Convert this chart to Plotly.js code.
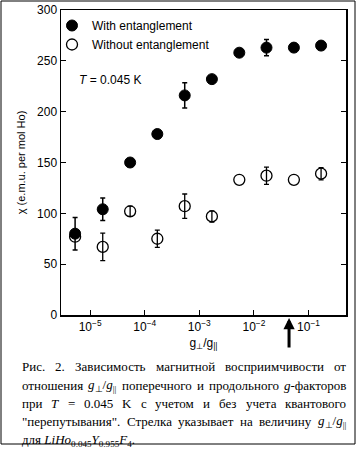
<!DOCTYPE html>
<html><head><meta charset="utf-8">
<script src="https://cdn.plot.ly/plotly-3.0.1.min.js"></script>
<style>html,body{margin:0;padding:0;background:#fff}</style>
</head><body><div id="chart" style="width:357px;height:450px"></div>
<script>
// ---- data ----
const ratio = [5.3e-6, 1.7e-5, 5.4e-5, 1.7e-4, 5.4e-4, 1.7e-3, 5.4e-3, 1.7e-2, 5.4e-2, 1.7e-1];
const chiWith = [80, 104, 150, 178, 216, 232, 258, 263, 263, 265];
const errWith = [16, 11, NaN, NaN, 12.5, NaN, NaN, 8, NaN, NaN];
const chiWithout = [77, 67, 102, 75, 107, 97, 133, 137, 133, 139];
const errWithout = [NaN, 13.5, 5, 8.5, 12, 5.5, NaN, 8.5, NaN, 6];
const xTickVals = [1e-5, 1e-4, 1e-3, 1e-2, 1e-1];
const xTickText = ['10<sup>−5</sup>', '10<sup>−4</sup>', '10<sup>−3</sup>', '10<sup>−2</sup>', '10<sup>−1</sup>'];
const yTickVals = [0, 50, 100, 150, 200, 250, 300];
const arrowRatio = 0.044;   // g_perp/g_par for LiHo0.045Y0.955F4
const seriesNames = ['With entanglement', 'Without entanglement'];
const captionLines = [
  ['Рис.', '2.', 'Зависимость', 'магнитной', 'восприимчивости', 'от'],
  ['отношения', '<i>g</i><sub>⊥</sub>/<i>g</i><sub>||</sub>', 'поперечного', 'и', 'продольного', '<i>g</i>-факторов'],
  ['при', '<i>T</i>', '=', '0.045', 'K', 'с', 'учетом', 'и', 'без', 'учета', 'квантового'],
  ['"перепутывания".', 'Стрелка', 'указывает', 'на', 'величину', '<i>g</i><sub>⊥</sub>/<i>g</i><sub>||</sub>']
];
const captionLast = 'для <i>LiHo</i><sub>0.045</sub><i>Y</i><sub>0.955</sub><i>F</i><sub>4</sub>.';

// ---- geometry ----
const W = 357, H = 450;
const M = {l: 61, r: 11, t: 10, b: 135};
const PW = W - M.l - M.r, PH = H - M.t - M.b;
const px2x = p => (p - M.l) / PW;
const py2y = p => (H - M.b - p) / PH;

const sans = 'Arial, "Liberation Sans", sans-serif';
const serif = '"Liberation Serif", "Times New Roman", serif';
const capSize = 13;

const ctx = document.createElement('canvas').getContext('2d');
function measure(word, size, family) {
  let w = 0, italic = false, sub = false, m;
  const re = /<(\/?)(i|sub|sup)>|([^<]+)/g;
  while ((m = re.exec(word))) {
    if (m[2]) { const open = !m[1]; if (m[2] === 'i') italic = open; else sub = open; }
    else { ctx.font = (italic ? 'italic ' : '') + (sub ? size * 0.7 : size) + 'px ' + family; w += ctx.measureText(m[3]).width; }
  }
  return w;
}

const annotations = [];
const capLeft = 21, capRight = 345;
const lineY = [366, 385, 403, 421];
captionLines.forEach((words, li) => {
  const widths = words.map(w => measure(w, capSize, 'Liberation Serif'));
  const total = widths.reduce((a, b) => a + b, 0);
  const gap = (capRight - capLeft - total) / (words.length - 1);
  let x = capLeft;
  words.forEach((w, i) => {
    annotations.push({text: w, xref: 'paper', yref: 'paper', x: px2x(x - 1), y: py2y(lineY[li]),
      xanchor: 'left', yanchor: 'middle', showarrow: false, font: {family: serif, size: capSize, color: '#000'}});
    x += widths[i] + gap;
  });
});
annotations.push({text: captionLast, xref: 'paper', yref: 'paper', x: px2x(capLeft - 1), y: py2y(440),
  xanchor: 'left', yanchor: 'middle', showarrow: false, font: {family: serif, size: capSize, color: '#000'}});

annotations.push({text: '<i>T</i> = 0.045 K', xref: 'paper', yref: 'paper', x: px2x(77), y: py2y(80),
  xanchor: 'left', yanchor: 'middle', showarrow: false, font: {family: sans, size: 12, color: '#000'}});

annotations.push({text: '', xref: 'x', yref: 'paper', x: Math.log10(arrowRatio), y: py2y(318),
  showarrow: true, arrowhead: 2, arrowsize: 0.75, arrowwidth: 3, arrowcolor: '#000', ax: 0, ay: 31, standoff: 0});

const traces = [
  {x: ratio, y: chiWithout, name: seriesNames[1], type: 'scatter', mode: 'markers', legendrank: 2,
   marker: {symbol: 'circle', size: 11, color: 'rgba(255,255,255,0)', line: {color: '#000', width: 1.3}},
   error_y: {type: 'data', array: errWithout, visible: true, color: '#000', thickness: 1.3, width: 2.5}},
  {x: ratio, y: chiWith, name: seriesNames[0], type: 'scatter', mode: 'markers', legendrank: 1,
   marker: {symbol: 'circle', size: 11, color: '#000', line: {color: '#000', width: 1}},
   error_y: {type: 'data', array: errWith, visible: true, color: '#000', thickness: 1.5, width: 2.5}}
];

const layout = {
  width: W, height: H, margin: M,
  paper_bgcolor: '#fff', plot_bgcolor: '#fff',
  showlegend: true,
  legend: {x: px2x(52), y: py2y(11), xanchor: 'left', yanchor: 'top', bgcolor: 'rgba(0,0,0,0)',
    font: {family: sans, size: 12, color: '#000'}, tracegroupgap: 0},
  xaxis: {type: 'log', range: [-5.534, -0.313], tickvals: xTickVals, ticktext: xTickText,
    ticks: 'inside', ticklen: 5, tickwidth: 1, tickcolor: '#000',
    showline: true, linecolor: '#000', linewidth: 1.5, mirror: true, showgrid: false, zeroline: false,
    tickfont: {family: sans, size: 12, color: '#000'},
    title: {text: 'g<sub>⊥</sub>/g<sub>||</sub>', font: {family: sans, size: 12, color: '#000'}, standoff: 5}},
  yaxis: {range: [0, 300], tickvals: yTickVals,
    ticks: 'inside', ticklen: 5, tickwidth: 1, tickcolor: '#000',
    showline: true, linecolor: '#000', linewidth: 1.5, mirror: 'ticks', showgrid: false, zeroline: false,
    tickfont: {family: sans, size: 12, color: '#000'},
    title: {text: 'χ (e.m.u. per mol Ho)', font: {family: sans, size: 11, color: '#000'}, standoff: 9}},
  annotations: annotations,
  shapes: [{type: 'rect', xref: 'paper', yref: 'paper', x0: px2x(1), x1: px2x(355), y0: py2y(444), y1: py2y(1),
    line: {color: '#000', width: 1}}]
};

Plotly.newPlot('chart', traces, layout, {displayModeBar: false, staticPlot: true});
</script></body></html>
